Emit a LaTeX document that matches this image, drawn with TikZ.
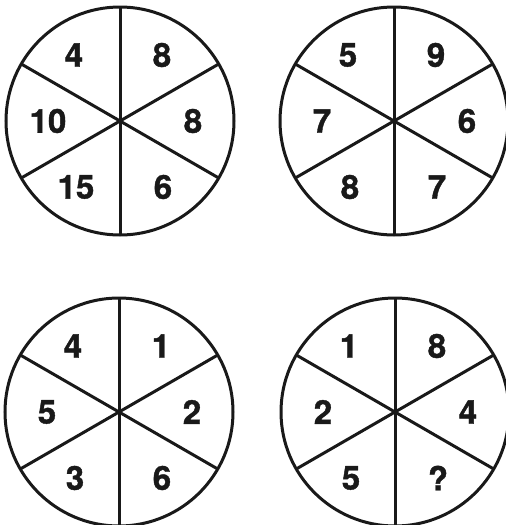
\documentclass[tikz,border=0pt]{standalone}
\usepackage{fontspec}
\setmainfont{TeX Gyre Heros}[BoldFeatures={FakeBold=1.2}]
\usetikzlibrary{calc}
\tikzset{
  wheel/.style={draw=black!90, line width=3pt, circle, minimum size=228pt, inner sep=0pt, outer sep=0pt},
  spoke/.style={draw=black!90, line width=3pt},
  num/.style={font=\fontsize{33}{33}\selectfont\bfseries, text=black!90, inner sep=0pt}
}
\begin{document}
\begin{tikzpicture}[x=1pt,y=-1pt]
\useasboundingbox (0,0) rectangle (506,525);
\foreach \cx/\cy/\nm/\a/\b/\c/\d/\e/\f in {
  120/121/A/8/8/4/10/15/6,
  394/121/B/6/9/5/7/8/7,
  119/412/C/2/1/4/5/3/6,
  395/412/D/4/8/1/2/5/?}{
  \coordinate (\nm) at (\cx,\cy);
  \node[wheel] (\nm-c) at (\nm) {};
  \foreach \ang in {30,90,150,210,270,330}{
    \draw[spoke] (\nm) -- (\nm-c.\ang);
  }
  \node[num] (\nm-0) at ($(\nm)+(73,0)$) {\a};
  \node[num] (\nm-60) at ($(\nm)+(42,-66)$) {\b};
  \node[num] (\nm-120) at ($(\nm)+(-46,-66)$) {\c};
  \node[num] (\nm-180) at ($(\nm)+(-72,0)$) {\d};
  \node[num] (\nm-240) at ($(\nm)+(-44,66)$) {\e};
  \node[num] (\nm-300) at ($(\nm)+(43,66)$) {\f};
}
\end{tikzpicture}
\end{document}
